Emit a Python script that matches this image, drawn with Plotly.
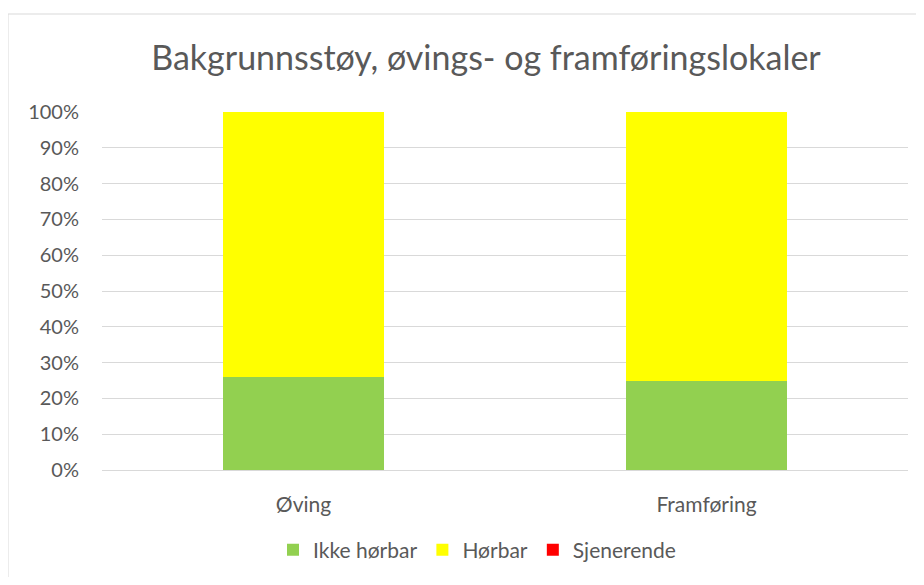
import plotly.graph_objects as go

categories = ["Øving", "Framføring"]
ikke_horbar = [0.26, 0.25]
horbar = [0.74, 0.75]
sjenerende = [0.0, 0.0]
y_ticks = [0, 0.1, 0.2, 0.3, 0.4, 0.5, 0.6, 0.7, 0.8, 0.9, 1.0]

FONT = "Lato"
TXT = "#595959"

fig = go.Figure()
fig.add_trace(go.Bar(x=categories, y=ikke_horbar, name="Ikke hørbar", marker=dict(color="#92d050", line=dict(width=0))))
fig.add_trace(go.Bar(x=categories, y=horbar, name="Hørbar", marker=dict(color="#ffff00", line=dict(width=0))))
fig.add_trace(go.Bar(x=categories, y=sjenerende, name="Sjenerende", marker=dict(color="#ff0000", line=dict(width=0))))

# page body has an 8px margin, so figure coords = screen coords - 8
OFF = 8
W, H = 908, 569
L, T = 102 - OFF, 112 - OFF
R = W - (908 - OFF)
B = H - (470 - OFF)
pw, ph = W - L - R, H - T - B

def px_x(sx):
    return (sx - OFF - L) / pw

def px_y(sy):
    return (H - B - (sy - OFF)) / ph

fig.update_layout(
    width=W, height=H,
    barmode="stack",
    bargap=0.6,
    margin=dict(l=L, r=R, t=T, b=B),
    paper_bgcolor="white",
    plot_bgcolor="white",
    font=dict(family=FONT, color=TXT, size=21),
    title=dict(text="Bakgrunnsstøy, øvings- og framføringslokaler",
               x=(486 - OFF) / W, xanchor="center",
               y=1 - (58 - OFF) / H, yanchor="middle", xref="container", yref="container",
               font=dict(size=34, color=TXT, family=FONT)),
    legend=dict(orientation="h", x=(477 - OFF) / W, xanchor="center", xref="container",
                y=1 - (550 - OFF) / H, yanchor="middle", yref="container",
                font=dict(size=21, color=TXT), traceorder="normal", itemwidth=30),
    xaxis=dict(showgrid=False, showline=False, ticks="", ticklabelstandoff=20,
               tickfont=dict(size=21, color=TXT)),
    yaxis=dict(range=[0, 1], tickvals=y_ticks, tickformat=".0%", showgrid=True,
               gridcolor="#d9d9d9", gridwidth=1, zeroline=True, zerolinecolor="#d9d9d9",
               zerolinewidth=1, showline=False, ticks="", ticklabelstandoff=22,
               tickfont=dict(size=20, color=TXT)),
    shapes=[dict(type="rect", xref="paper", yref="paper",
                 x0=px_x(8), x1=px_x(940), y0=px_y(600), y1=px_y(14),
                 line=dict(color="#d9d9d9", width=1), fillcolor="rgba(0,0,0,0)", layer="below")],
)

fig.write_html("out.html")
